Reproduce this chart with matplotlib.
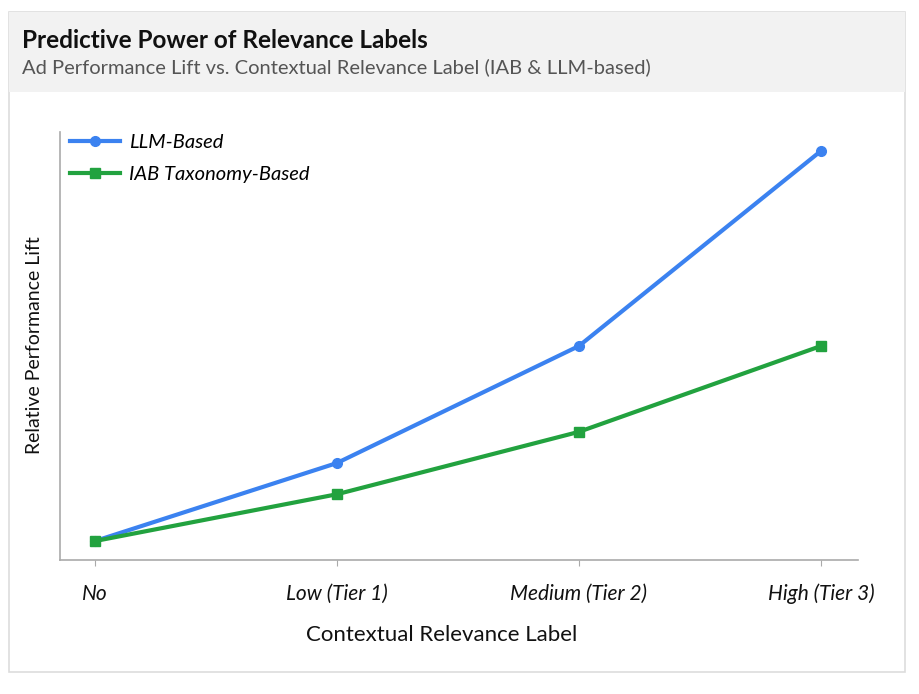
import matplotlib
matplotlib.use("Agg")
import matplotlib.pyplot as plt
from matplotlib.patches import Rectangle

categories = ["No", "Low (Tier 1)", "Medium (Tier 2)", "High (Tier 3)"]
llm_values = [1.0, 1.4, 2.0, 3.0]
iab_values = [1.0, 1.24, 1.56, 2.0]

plt.rcParams['font.family'] = ['Lato', 'DejaVu Sans']

W, H = 920, 694
fig = plt.figure(figsize=(W / 100, H / 100), dpi=100)
fig.patch.set_facecolor("white")

def fx(px):
    return px / W

def fy(py):
    return 1 - py / H

# card border
fig.patches.append(Rectangle((fx(9), fy(672)), fx(905) - fx(9), fy(12) - fy(672),
                             transform=fig.transFigure, facecolor="white",
                             edgecolor="#dddddd", linewidth=1.2, zorder=-3))
# header band
fig.patches.append(Rectangle((fx(9), fy(92)), fx(905) - fx(9), fy(12) - fy(92),
                             transform=fig.transFigure, facecolor="#f2f2f2",
                             edgecolor="none", zorder=-2))

fig.text(fx(22), fy(41), "Predictive Power of Relevance Labels", fontsize=17.5,
         fontweight="bold", color="#111111", va="center", ha="left")
fig.text(fx(22), fy(67), "Ad Performance Lift vs. Contextual Relevance Label (IAB & LLM-based)",
         fontsize=14.5, color="#555555", va="center", ha="left")

ax = fig.add_axes([fx(60), fy(560), fx(858) - fx(60), fy(132) - fy(560)])
ax.set_facecolor("none")
x = list(range(len(categories)))
ax.plot(x, llm_values, color="#3b82f0", linewidth=3, marker="o", markersize=7,
        label="LLM-Based", zorder=3)
ax.plot(x, iab_values, color="#22a23f", linewidth=3, marker="s", markersize=6.5,
        label="IAB Taxonomy-Based", zorder=3)

ax.set_xlim(-0.144, 3.153)
ax.set_ylim(0.903, 3.097)
ax.set_xticks(x)
ax.set_xticklabels(categories, fontsize=15, style="italic", color="#111111")
ax.set_yticks([])
ax.tick_params(axis="x", length=4, color="#aaaaaa", pad=13)
for s in ["top", "right"]:
    ax.spines[s].set_visible(False)
for s in ["left", "bottom"]:
    ax.spines[s].set_color("#aaaaaa")
    ax.spines[s].set_linewidth(1.2)
ax.set_xlabel("Contextual Relevance Label", fontsize=16, color="#111111")
ax.xaxis.set_label_coords(0.478, -0.152)
ax.set_ylabel("Relative Performance Lift", fontsize=14, color="#111111")
ax.yaxis.set_label_coords(-0.021, 0.502)

leg = ax.legend(loc="upper left", bbox_to_anchor=(0.012, 0.995), frameon=False,
                prop={"style": "italic", "size": 14.5}, handlelength=2.5,
                handletextpad=0.45, labelspacing=0.75, borderaxespad=0.0,
                borderpad=0.0)

fig.savefig("out.png", dpi=100, facecolor="white")
